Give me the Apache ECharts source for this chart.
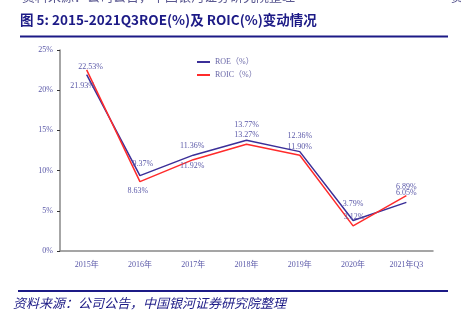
<!DOCTYPE html>
<html><head><meta charset="utf-8">
<script src="https://cdn.jsdelivr.net/npm/echarts@6/dist/echarts.min.js"></script>
<style>html,body{margin:0;padding:0;background:#fff}#c{width:461px;height:327px}</style>
</head><body><div id="c"></div>
<script>
const categories = ['2015年','2016年','2017年','2018年','2019年','2020年','2021年Q3'];
const roe  = [21.93, 9.37, 11.92, 13.77, 12.36, 3.79, 6.05];
const roic = [22.53, 8.63, 11.36, 13.27, 11.90, 3.12, 6.89];
const seriesNames = ['ROE（%）', 'ROIC（%）'];
const yTicks = [0, 5, 10, 15, 20, 25];

// label placement (layout only)
const roePos  = ['bottom','top','bottom','top','top','top','top'];
const roeOff  = [[-4,2],[3,-3],[-1,2],[0,-6],[0,-7],[0,-8],[0,0]];
const roicPos = ['top','bottom','top','top','top','top','top'];
const roicOff = [[4,6],[-2,0],[-1,-5],[0,0],[0,1],[1,0],[0,0]];

const serif = '"Liberation Serif","DejaVu Serif","Noto Sans CJK SC",serif';
const navy = '#1c1a86';
const labelColor = '#5a58a8';

function build(vals, pos, off){
  return vals.map((v,i)=>({value:v, label:{position:pos[i], offset:off[i]}}));
}

const chart = echarts.init(document.getElementById('c'), null, {renderer:'canvas'});
chart.setOption({
  animation:false,
  backgroundColor:'#fff',
  grid:{left:60, right:28, top:50, bottom:76},
  legend:{
    orient:'vertical', left:192, top:53, itemWidth:13, itemHeight:2, itemGap:5,
    icon:'rect',
    textStyle:{fontFamily:serif, fontSize:8, color:'#6a68a8'},
    data:seriesNames
  },
  xAxis:{
    type:'category', data:categories, boundaryGap:true,
    axisLine:{lineStyle:{color:'#888', width:1.5}},
    axisTick:{inside:true, length:3, lineStyle:{color:'#333'}},
    axisLabel:{fontFamily:serif, fontSize:8, color:'#5a58a8', margin:10}
  },
  yAxis:{
    type:'value', min:0, max:25, interval:5,
    axisLine:{show:true, lineStyle:{color:'#888', width:1.5}},
    axisTick:{show:true, length:3, lineStyle:{color:'#333'}},
    splitLine:{show:false},
    axisLabel:{fontFamily:serif, fontSize:8, color:'#5a58a8', margin:7,
      formatter:v=> yTicks.includes(v) ? v + '%' : ''}
  },
  series:[
    {name:seriesNames[0], type:'line', data:build(roe, roePos, roeOff), showSymbol:true, symbol:'circle', symbolSize:0.01,
     lineStyle:{color:'#3b2f98', width:1.5}, itemStyle:{color:'#3b2f98'},
     label:{show:true, fontFamily:serif, fontSize:8, color:labelColor, formatter:p=>p.value.toFixed(2)+'%'}},
    {name:seriesNames[1], type:'line', data:build(roic, roicPos, roicOff), showSymbol:true, symbol:'circle', symbolSize:0.01,
     lineStyle:{color:'#ff2b2b', width:1.5}, itemStyle:{color:'#ff2b2b'},
     label:{show:true, fontFamily:serif, fontSize:8, color:labelColor, formatter:p=>p.value.toFixed(2)+'%'}}
  ],
  graphic:[
    {type:'text', left:22, top:-10, style:{text:'资料来源：公司公告，中国银河证券研究院整理', font:'13px "Noto Sans CJK SC"', fill:'#5a5890'}},
    {type:'text', left:451, top:-10, style:{text:'资', font:'13px "Noto Sans CJK SC"', fill:'#5a5890'}},
    {type:'text', left:20, top:13, style:{text:'图 5: 2015-2021Q3ROE(%)及 ROIC(%)变动情况', font:'bold 13.5px "Noto Sans CJK SC"', fill:navy}},
    {type:'rect', shape:{x:20, y:35.5, width:428, height:2}, style:{fill:navy}},
    {type:'rect', shape:{x:18, y:290, width:430, height:2}, style:{fill:navy}},
    {type:'text', left:13, top:297, style:{text:'资料来源：公司公告，中国银河证券研究院整理', font:'italic 13px "Noto Sans CJK SC"', fill:navy}}
  ]
});
</script></body></html>
